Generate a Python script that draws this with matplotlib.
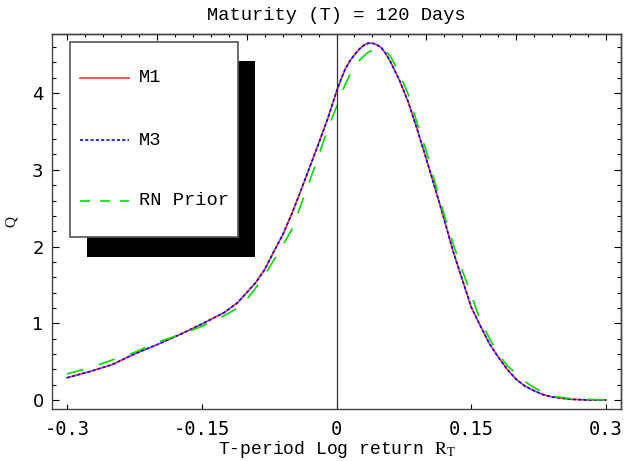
import numpy as np
import matplotlib
matplotlib.use("Agg")
import matplotlib.pyplot as plt
from matplotlib.lines import Line2D
from matplotlib.patches import Rectangle
from matplotlib.ticker import MultipleLocator, NullFormatter

plt.rcParams['lines.scale_dashes'] = False
plt.rcParams['mathtext.fontset'] = 'stix'

# --- data ---
x_ret = [-0.30, -0.275, -0.25, -0.225, -0.20, -0.175, -0.15, -0.125, -0.11, -0.10,
         -0.09, -0.08, -0.07, -0.06, -0.05, -0.04, -0.03, -0.02, -0.01, 0.00,
         0.005, 0.01, 0.015, 0.02, 0.025, 0.03, 0.035, 0.04, 0.045, 0.05,
         0.055, 0.06, 0.07, 0.08, 0.09, 0.10,
         0.11, 0.12, 0.13, 0.14, 0.15, 0.16, 0.17, 0.18, 0.19, 0.20,
         0.21, 0.22, 0.23, 0.24, 0.26, 0.28, 0.30]

m1 = [0.29, 0.37, 0.46, 0.60, 0.72, 0.85, 0.99, 1.14, 1.27, 1.40,
      1.53, 1.70, 1.93, 2.15, 2.42, 2.72, 3.03, 3.34, 3.66, 4.02,
      4.18, 4.32, 4.42, 4.50, 4.57, 4.62, 4.65, 4.65, 4.63, 4.59,
      4.51, 4.41, 4.17, 3.88, 3.52, 3.14,
      2.75, 2.35, 1.93, 1.57, 1.21, 0.97, 0.74, 0.56, 0.40, 0.27,
      0.18, 0.12, 0.07, 0.04, 0.01, 0.00, 0.00]

m3 = [0.29, 0.37, 0.46, 0.60, 0.72, 0.85, 0.99, 1.14, 1.27, 1.40,
      1.53, 1.70, 1.93, 2.15, 2.42, 2.72, 3.03, 3.34, 3.66, 4.02,
      4.18, 4.32, 4.42, 4.50, 4.57, 4.62, 4.65, 4.65, 4.63, 4.59,
      4.51, 4.41, 4.17, 3.88, 3.52, 3.14,
      2.75, 2.35, 1.93, 1.57, 1.21, 0.97, 0.74, 0.56, 0.40, 0.27,
      0.18, 0.12, 0.07, 0.04, 0.01, 0.00, 0.00]

rn_prior = [0.34, 0.42, 0.52, 0.62, 0.75, 0.85, 0.96, 1.10, 1.20, 1.31,
            1.46, 1.63, 1.82, 2.01, 2.22, 2.53, 2.85, 3.18, 3.53, 3.82,
            3.98, 4.12, 4.24, 4.34, 4.42, 4.48, 4.53, 4.56, 4.58, 4.57,
            4.54, 4.48, 4.26, 3.98, 3.60, 3.24,
            2.82, 2.41, 2.03, 1.69, 1.37, 1.04, 0.81, 0.60, 0.45, 0.34,
            0.24, 0.16, 0.10, 0.05, 0.02, 0.01, 0.00]

x_ticks = [-0.3, -0.15, 0, 0.15, 0.3]
x_tick_labels = ["-0.3", "-0.15", "0", "0.15", "0.3"]
series_labels = ["M1", "M3", "RN Prior"]

RED, BLUE, GREEN = "#ff3333", "#0000ff", "#00e000"
MONO = "Liberation Mono"

fig = plt.figure(figsize=(6.26, 4.61), dpi=100)
ax = fig.add_axes([0.0831, 0.1128, 0.9089, 0.8134])

ax.plot(x_ret, m1, color=RED, lw=1.2)
ax.plot(x_ret, m3, color=BLUE, lw=1.2, dashes=(2.2, 1.6))
ax.plot(x_ret, rn_prior, color=GREEN, lw=1.2, dashes=(12.2, 11.5))
ax.axvline(0, color="#333333", lw=0.9)

ax.set_xlim(-0.3167, 0.3167)
ax.set_ylim(-0.117, 4.77)

# bottom axis: only the labelled ticks
ax.set_xticks(x_ticks)
ax.set_xticklabels(x_tick_labels, family="DejaVu Sans Mono", fontsize=13.5)
ax.tick_params(axis="x", direction="in", length=3.5, width=0.8, pad=8, top=False)

# left axis
ax.yaxis.set_major_locator(MultipleLocator(1))
ax.yaxis.set_minor_locator(MultipleLocator(0.2))
ax.tick_params(axis="y", which="major", direction="in", length=5, width=0.8,
               labelsize=13, pad=6)
ax.tick_params(axis="y", which="minor", direction="in", length=3, width=0.8)
for lab in ax.get_yticklabels():
    lab.set_family("DejaVu Sans")

# top and right frame ticks, no labels
top = ax.secondary_xaxis("top")
top.xaxis.set_major_locator(MultipleLocator(0.1))
top.xaxis.set_minor_locator(MultipleLocator(0.02))
top.xaxis.set_major_formatter(NullFormatter())
top.tick_params(which="major", direction="in", length=4, width=0.8)
top.tick_params(which="minor", direction="in", length=2.5, width=0.8)

right = ax.secondary_yaxis("right")
right.yaxis.set_major_locator(MultipleLocator(1))
right.yaxis.set_minor_locator(MultipleLocator(0.2))
right.yaxis.set_major_formatter(NullFormatter())
right.tick_params(which="major", direction="in", length=5, width=0.8)
right.tick_params(which="minor", direction="in", length=3, width=0.8)

for sp in list(ax.spines.values()) + [top.spines["top"], right.spines["right"]]:
    sp.set_color("#444444")
    sp.set_linewidth(1.0)

ax.set_title("Maturity (T) = 120 Days", family=MONO, fontsize=13.5, pad=10)
ax.set_xlabel(r"T-period Log return $\mathrm{R_T}$", family=MONO, fontsize=13,
              labelpad=0)
ax.set_ylabel("Q", family="Liberation Serif", fontsize=11, labelpad=10)

# legend box with solid black shadow
ax.add_patch(Rectangle((0.0614, 0.405), 0.2946, 0.523, transform=ax.transAxes,
                       facecolor="black", edgecolor="none", zorder=5))
ax.add_patch(Rectangle((0.0316, 0.459), 0.2944, 0.520, transform=ax.transAxes,
                       facecolor="white", edgecolor="#555555", lw=1.2, zorder=6))
rows = [0.883, 0.717, 0.555]
styles = [dict(color=RED, lw=1.2),
          dict(color=BLUE, lw=1.2, dashes=(2.2, 1.6)),
          dict(color=GREEN, lw=1.2, dashes=(7.2, 7.2))]
for yy, lab, st in zip(rows, series_labels, styles):
    ax.add_line(Line2D([0.0491, 0.1351], [yy, yy], transform=ax.transAxes,
                       zorder=7, **st))
    ax.text(0.1526, yy, lab, transform=ax.transAxes, family=MONO, fontsize=13.5,
            va="center", ha="left", zorder=7)

fig.savefig("out.png", dpi=100)
